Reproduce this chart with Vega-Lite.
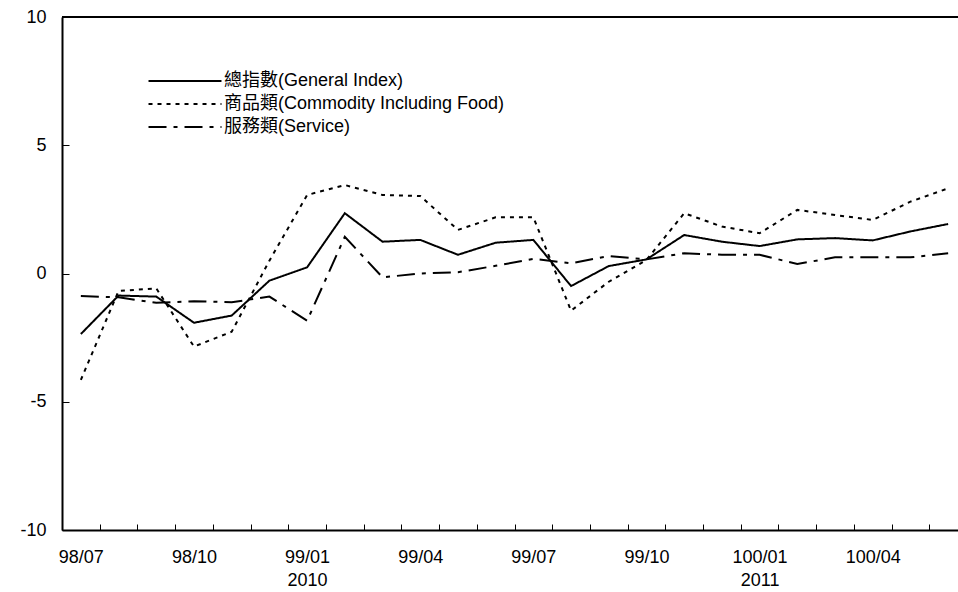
{
  "$schema": "https://vega.github.io/schema/vega-lite/v6.json",
  "width": 896,
  "height": 513,
  "autosize": {"type": "none"},
  "padding": {"left": 62, "top": 17, "right": 0, "bottom": 62},
  "background": "white",
  "config": {
    "font": "Liberation Sans, Noto Sans CJK TC",
    "view": {"stroke": null},
    "axis": {"labelFont": "Liberation Sans", "labelFontSize": 18, "labelColor": "black", "domainColor": "black", "domainWidth": 2, "tickColor": "black", "grid": false, "title": null}
  },
  "data": {"values": [
    {"m":"98/07","s":"g","v":-2.36},{"m":"98/08","s":"g","v":-0.86},{"m":"98/09","s":"g","v":-0.9},{"m":"98/10","s":"g","v":-1.92},{"m":"98/11","s":"g","v":-1.64},{"m":"98/12","s":"g","v":-0.28},
    {"m":"99/01","s":"g","v":0.24},{"m":"99/02","s":"g","v":2.35},{"m":"99/03","s":"g","v":1.24},{"m":"99/04","s":"g","v":1.31},{"m":"99/05","s":"g","v":0.73},{"m":"99/06","s":"g","v":1.2},
    {"m":"99/07","s":"g","v":1.31},{"m":"99/08","s":"g","v":-0.49},{"m":"99/09","s":"g","v":0.29},{"m":"99/10","s":"g","v":0.55},{"m":"99/11","s":"g","v":1.5},{"m":"99/12","s":"g","v":1.24},
    {"m":"100/01","s":"g","v":1.07},{"m":"100/02","s":"g","v":1.33},{"m":"100/03","s":"g","v":1.38},{"m":"100/04","s":"g","v":1.29},{"m":"100/05","s":"g","v":1.64},{"m":"100/06","s":"g","v":1.93},
    {"m":"98/07","s":"c","v":-4.15},{"m":"98/08","s":"c","v":-0.68},{"m":"98/09","s":"c","v":-0.58},{"m":"98/10","s":"c","v":-2.85},{"m":"98/11","s":"c","v":-2.27},{"m":"98/12","s":"c","v":0.5},
    {"m":"99/01","s":"c","v":3.06},{"m":"99/02","s":"c","v":3.45},{"m":"99/03","s":"c","v":3.06},{"m":"99/04","s":"c","v":3.02},{"m":"99/05","s":"c","v":1.7},{"m":"99/06","s":"c","v":2.19},
    {"m":"99/07","s":"c","v":2.19},{"m":"99/08","s":"c","v":-1.45},{"m":"99/09","s":"c","v":-0.32},{"m":"99/10","s":"c","v":0.53},{"m":"99/11","s":"c","v":2.35},{"m":"99/12","s":"c","v":1.83},
    {"m":"100/01","s":"c","v":1.57},{"m":"100/02","s":"c","v":2.48},{"m":"100/03","s":"c","v":2.28},{"m":"100/04","s":"c","v":2.09},{"m":"100/05","s":"c","v":2.8},{"m":"100/06","s":"c","v":3.32},
    {"m":"98/07","s":"s","v":-0.88},{"m":"98/08","s":"s","v":-0.93},{"m":"98/09","s":"s","v":-1.14},{"m":"98/10","s":"s","v":-1.08},{"m":"98/11","s":"s","v":-1.12},{"m":"98/12","s":"s","v":-0.9},
    {"m":"99/01","s":"s","v":-1.84},{"m":"99/02","s":"s","v":1.43},{"m":"99/03","s":"s","v":-0.15},{"m":"99/04","s":"s","v":0.0},{"m":"99/05","s":"s","v":0.05},{"m":"99/06","s":"s","v":0.3},
    {"m":"99/07","s":"s","v":0.57},{"m":"99/08","s":"s","v":0.4},{"m":"99/09","s":"s","v":0.68},{"m":"99/10","s":"s","v":0.55},{"m":"99/11","s":"s","v":0.79},{"m":"99/12","s":"s","v":0.73},
    {"m":"100/01","s":"s","v":0.73},{"m":"100/02","s":"s","v":0.37},{"m":"100/03","s":"s","v":0.63},{"m":"100/04","s":"s","v":0.63},{"m":"100/05","s":"s","v":0.63},{"m":"100/06","s":"s","v":0.79}
  ]},
  "layer": [
    {
      "mark": {"type": "line", "color": "black", "strokeWidth": 2},
      "encoding": {
        "x": {
          "field": "m", "type": "ordinal", "sort": null,
          "scale": {"type": "band", "range": [0, 905], "paddingInner": 0, "paddingOuter": 0},
          "axis": {
            "tickBand": "extent", "tickSize": -6, "tickWidth": 1, "labelAngle": 0, "labelOverlap": false,
            "labelPadding": 24, "labelLineHeight": 23, "labelBaseline": "top",
            "labelExpr": "datum.value == '99/01' ? ['99/01', '2010'] : datum.value == '100/01' ? ['100/01', '2011'] : (indexof(['98/07','98/10','99/04','99/07','99/10','100/04'], datum.value) >= 0 ? datum.value : '')"
          }
        },
        "y": {
          "field": "v", "type": "quantitative",
          "scale": {"domain": [-10, 10], "nice": false, "zero": false},
          "axis": {"values": [-10, -5, 0, 5, 10], "tickSize": -7, "tickWidth": 1, "labelPadding": 23, "labelExpr": "toString(datum.value)"}
        },
        "strokeDash": {
          "field": "s", "type": "nominal",
          "scale": {"domain": ["g", "c", "s"], "range": [[1, 0], [4, 5], [18, 7, 4, 7]]},
          "legend": {
            "orient": "none", "legendX": 114, "legendY": 55, "title": null, "padding": 0,
            "symbolType": "M-5,0H5", "symbolSize": 213, "symbolStrokeWidth": 2, "symbolStrokeColor": "black", "symbolFillColor": "transparent",
            "labelFont": "Liberation Sans, Noto Sans CJK TC", "labelFontSize": 18, "labelColor": "black", "labelOffset": 30, "rowPadding": 5, "labelLimit": 600,
            "labelExpr": "datum.value == 'g' ? '總指數(General Index)' : datum.value == 'c' ? '商品類(Commodity Including Food)' : '服務類(Service)'"
          }
        }
      }
    },
    {
      "mark": {"type": "rule", "color": "black", "strokeWidth": 2},
      "encoding": {"y": {"datum": 10}}
    }
  ]
}
